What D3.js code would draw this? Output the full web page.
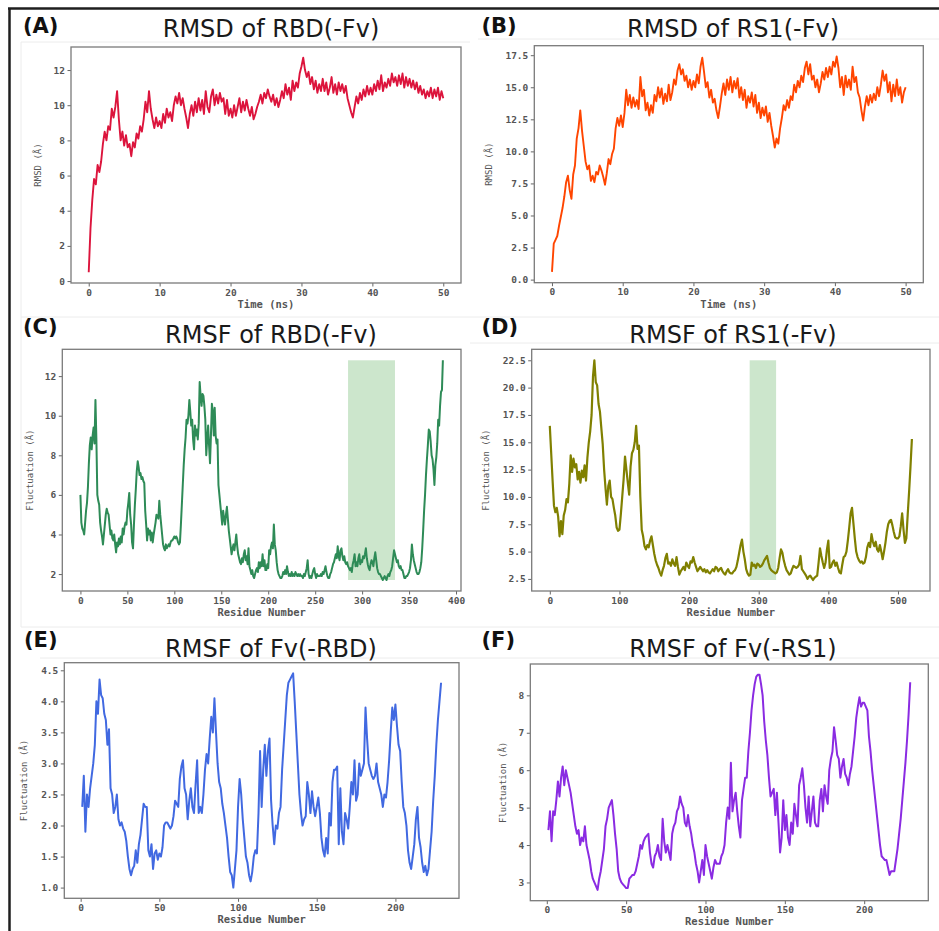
<!DOCTYPE html>
<html><head><meta charset="utf-8">
<script src="https://cdn.jsdelivr.net/npm/d3@7"></script>
<style>body{margin:0;background:#fff}svg{display:block}</style>
</head><body>
<svg id="fig" width="939" height="931"></svg>
<script>
// ---------------- DATA ----------------
const rmsdTimeRange = [0, 50];          // ns, samples evenly spaced
const rmsdRBD = [0.5,3.0,4.6,5.8,5.5,6.6,6.2,6.8,7.8,8.5,8.0,8.8,8.6,9.8,9.3,9.9,10.8,9.2,8.0,8.5,7.7,8.3,7.6,7.8,7.1,7.9,7.6,8.4,8.1,8.8,8.5,9.2,10.2,9.6,10.8,9.8,9.2,8.7,9.3,8.8,9.1,8.7,9.5,9.0,9.8,9.3,9.6,9.1,10.0,10.5,10.1,10.7,10.0,10.4,9.8,9.3,8.7,9.5,10.0,9.4,10.2,9.6,10.4,9.7,10.3,9.5,10.8,9.9,9.6,10.5,10.9,10.0,10.6,10.1,10.7,10.2,10.4,9.5,10.3,9.4,9.8,9.3,10.0,9.4,9.9,10.4,9.6,10.2,9.7,10.3,9.8,9.4,9.9,9.2,9.5,9.9,10.2,10.6,10.1,10.7,10.4,10.9,10.5,10.2,10.6,10.0,10.4,9.9,10.3,10.8,10.4,11.2,10.6,11.0,10.3,11.4,10.8,11.3,11.0,11.8,12.2,12.7,12.0,11.6,11.9,11.2,11.6,10.9,11.4,10.7,11.2,10.8,11.5,10.8,11.3,10.6,11.0,11.6,10.7,11.2,10.6,11.3,10.8,11.2,10.7,11.1,10.4,10.0,9.6,9.3,9.9,10.5,10.1,10.7,10.3,10.9,10.5,11.1,10.6,11.0,10.6,11.2,10.8,11.4,10.9,11.7,10.8,11.3,11.0,11.5,11.1,11.8,11.3,11.6,11.1,11.7,11.2,11.8,11.0,11.6,11.1,11.5,11.0,11.4,10.9,11.3,10.7,11.1,10.6,10.9,10.4,10.8,10.5,11.0,10.4,10.9,10.5,11.0,10.3,10.8,10.4];
const rmsdRS1 = [0.6,2.8,3.1,3.4,4.2,4.9,5.6,6.5,7.6,8.1,7.0,6.3,8.2,8.9,11.0,11.8,13.2,11.6,10.4,9.2,8.6,8.9,7.7,8.1,7.6,8.4,8.2,8.9,8.5,8.0,7.4,8.3,9.4,9.0,9.8,10.2,11.8,12.6,12.0,12.8,11.9,13.0,14.8,13.6,14.4,13.4,14.2,13.5,14.0,13.3,15.8,14.3,14.8,13.2,13.8,12.8,13.6,13.0,14.4,13.9,15.0,14.2,14.9,13.7,14.5,13.9,15.2,14.0,14.6,15.6,15.2,16.3,16.8,16.0,16.4,15.5,15.9,15.0,15.6,14.8,15.5,15.0,16.0,15.3,16.6,17.3,16.2,15.0,15.4,14.2,14.8,13.8,14.1,13.2,12.6,13.5,14.5,15.3,14.4,15.6,14.8,15.8,14.6,15.5,14.9,15.7,14.2,15.0,14.0,14.8,13.4,14.3,13.8,14.6,13.5,14.4,13.0,13.8,12.6,13.4,12.8,13.5,12.3,13.0,12.0,11.2,10.3,11.0,10.6,11.8,12.6,13.6,13.2,14.0,13.4,14.3,14.0,15.2,14.6,15.5,15.0,15.9,15.4,16.5,17.0,16.0,16.8,15.6,15.9,15.0,15.6,14.6,15.3,16.2,15.6,16.5,15.8,16.6,16.0,17.0,16.6,17.4,16.5,15.0,15.8,14.4,15.9,15.0,15.6,14.8,16.6,15.4,15.8,14.6,14.2,13.2,12.4,13.5,14.3,13.6,14.4,13.8,14.5,14.0,15.0,14.3,15.2,16.3,15.5,16.0,14.6,15.4,13.9,15.2,14.3,15.6,14.4,15.0,13.8,14.6,15.0];

const rmsfRBDRange = [0, 386];          // residues, one value per residue
const rmsfRBD = [6.0,4.6,4.3,4.2,4.0,4.6,5.2,5.6,6.4,7.6,8.5,8.9,8.3,9.0,9.4,8.6,10.8,8.8,6.0,5.7,5.5,4.6,4.2,3.9,3.5,4.0,4.5,5.0,5.3,5.1,5.0,4.5,4.0,4.2,3.8,3.7,4.0,3.5,3.1,3.6,3.4,3.8,3.5,3.9,3.6,4.3,4.0,4.4,4.6,4.5,5.2,5.6,6.1,5.0,4.5,3.6,3.3,4.5,5.5,6.3,7.2,7.7,7.4,7.0,7.1,6.8,6.9,6.7,6.6,5.2,4.5,3.7,4.3,4.0,4.2,3.7,4.1,3.6,4.0,4.3,4.6,5.0,4.9,4.8,5.7,5.0,4.5,4.0,3.5,3.3,3.2,3.5,3.3,3.4,3.5,3.4,3.6,3.7,3.7,3.8,3.9,3.8,3.9,3.8,3.6,3.5,3.6,4.5,5.5,6.5,7.5,8.3,8.9,9.8,9.6,10.0,10.8,10.2,9.5,9.8,8.8,8.3,9.5,9.0,9.3,8.8,9.6,11.7,11.0,10.5,11.1,11.0,10.5,9.8,8.0,8.8,9.5,8.5,7.6,9.0,10.6,10.2,9.0,10.4,9.0,8.6,8.8,6.5,6.0,5.5,5.0,4.5,5.2,4.8,4.5,5.0,5.4,4.8,4.2,3.8,3.4,3.0,3.3,3.5,3.2,3.6,4.0,3.4,3.0,2.8,2.6,2.5,2.8,2.6,3.0,3.2,2.7,2.9,2.5,3.3,2.4,2.2,2.0,2.2,1.9,1.8,2.0,2.2,2.3,2.1,2.6,2.3,2.6,2.4,3.0,2.4,2.7,2.2,2.2,2.5,2.3,3.2,3.0,3.4,3.6,3.3,4.5,3.5,3.2,2.6,2.2,2.0,1.9,1.8,1.8,1.9,2.1,2.0,2.2,2.0,2.4,2.1,1.9,2.0,1.9,2.1,1.9,2.0,1.9,2.1,2.0,1.9,2.0,1.9,2.0,1.9,1.9,1.8,2.0,1.9,2.1,2.3,2.7,2.0,1.8,1.9,1.8,2.0,2.2,2.3,2.0,1.8,2.0,1.9,1.9,1.9,2.0,1.9,2.1,2.0,2.2,2.4,2.1,1.9,1.8,1.8,2.0,2.1,2.3,2.5,2.6,2.8,3.0,2.8,3.4,2.9,2.7,3.2,3.3,2.9,2.7,2.9,2.6,2.5,2.6,2.4,2.3,2.2,2.3,2.1,2.5,2.7,3.0,2.4,2.6,2.4,2.8,3.0,2.5,2.7,2.6,2.9,2.8,3.0,3.3,2.8,2.5,2.3,2.2,2.5,2.7,2.6,2.4,2.8,3.1,2.7,2.3,2.1,2.0,2.0,1.9,1.8,1.7,1.8,1.9,1.8,1.7,1.9,2.0,1.9,2.1,2.2,2.4,2.8,3.2,3.0,2.8,2.6,2.7,2.4,2.3,2.4,2.2,2.2,2.0,1.8,1.8,1.9,1.9,2.0,2.1,2.3,2.7,3.5,3.0,2.7,2.5,2.3,2.1,2.0,2.0,2.1,2.3,2.6,3.3,4.2,5.2,6.0,7.0,7.8,8.5,9.3,9.2,8.7,8.0,7.8,7.3,6.5,7.5,7.9,8.6,9.8,9.5,10.5,11.2,11.3,12.8];
const rmsfRBDHighlight = [285, 335];

const rmsfRS1Range = [0, 520];          // residues, one value every 2 residues
const rmsfRS1 = [16.5,14.0,11.5,9.2,8.6,9.0,8.2,6.4,7.8,6.6,8.3,8.8,9.8,9.5,11.2,13.8,12.3,13.5,12.7,13.0,11.6,12.3,11.3,12.4,11.8,12.9,11.5,13.6,15.0,16.0,17.5,21.0,22.5,20.5,20.2,18.5,17.8,16.3,14.8,12.5,10.8,9.3,11.0,11.5,10.0,9.8,9.0,8.3,7.2,6.9,7.0,8.4,10.0,11.6,13.7,12.5,11.3,10.2,12.8,14.0,14.3,15.0,16.5,14.4,14.7,10.0,7.0,6.4,5.5,5.2,5.6,5.4,6.0,6.4,5.6,4.8,4.2,3.8,3.5,3.1,2.8,3.3,3.7,4.4,4.8,3.9,4.0,3.7,4.3,3.9,3.7,4.5,3.6,2.9,3.2,3.4,3.6,3.3,4.0,3.7,3.5,4.1,4.0,4.5,4.0,3.6,3.2,3.4,3.6,3.4,3.2,3.4,3.1,3.3,3.1,3.0,3.2,3.4,3.2,3.6,3.5,3.2,3.4,3.5,3.2,3.0,2.9,3.2,3.4,3.1,3.0,3.0,3.2,3.3,3.6,4.2,4.9,5.6,6.1,5.0,4.3,3.4,3.0,2.8,2.9,4.0,3.7,3.8,3.5,3.9,3.8,3.6,3.7,3.9,4.2,4.4,4.6,4.0,3.5,3.3,3.2,3.1,3.0,3.1,3.5,4.4,5.2,4.9,4.2,3.7,3.3,3.1,2.9,3.0,3.4,3.7,3.6,3.5,3.6,3.8,4.6,3.4,3.2,3.0,2.8,2.5,2.7,2.8,2.6,2.4,2.6,2.7,2.8,4.0,5.3,4.6,4.0,3.5,4.0,5.2,6.0,3.5,3.6,4.0,4.2,3.7,4.0,3.5,3.1,3.0,3.8,4.5,4.6,5.0,6.0,7.2,8.5,9.0,7.6,6.2,5.0,4.5,4.2,4.0,4.1,3.9,4.0,4.5,5.4,5.8,5.4,6.6,5.9,5.5,5.9,5.2,5.0,5.6,5.0,4.3,5.0,5.8,6.8,7.5,7.8,7.9,7.4,6.8,6.3,6.2,6.2,6.4,7.3,8.5,7.0,5.8,6.2,8.4,10.5,12.8,15.3];
const rmsfRS1Highlight = [287, 325];

const rmsfFvRange = [1, 229];           // residues, one value per residue
const rmsfFvRBD = [2.3,2.8,1.9,2.5,2.3,2.6,2.8,3.0,3.3,4.0,3.8,4.35,4.1,4.05,3.8,3.7,3.3,3.55,2.6,2.5,2.2,2.3,2.5,2.1,2.0,2.05,1.95,1.9,1.75,1.5,1.3,1.2,1.3,1.35,1.6,1.4,1.7,1.85,2.1,2.35,2.3,2.3,1.6,1.5,1.7,1.3,1.55,1.6,1.45,1.55,1.5,1.65,2.0,2.05,2.05,2.0,1.95,2.0,2.15,2.4,2.35,2.3,2.75,2.95,3.05,2.6,2.5,2.1,2.4,2.6,2.3,2.2,2.65,3.05,2.2,2.3,2.2,2.5,2.9,3.15,3.0,3.4,3.75,3.5,4.05,3.5,3.0,2.7,2.6,2.35,2.2,2.0,1.8,1.5,1.25,1.2,1.0,1.3,1.6,2.3,2.75,2.5,2.1,1.8,1.5,1.4,1.2,1.1,1.25,1.5,1.6,1.55,2.2,3.2,2.3,2.9,3.3,2.8,3.2,3.4,2.4,2.0,1.7,2.0,1.95,2.2,2.3,2.9,3.3,3.7,4.1,4.3,4.35,4.4,4.45,4.0,3.5,3.0,2.5,2.2,2.0,2.1,2.15,2.7,2.5,2.2,2.55,2.3,2.15,2.3,2.45,2.2,1.8,1.6,1.5,1.8,1.55,2.2,2.0,2.7,2.9,2.9,2.95,1.7,2.6,1.9,1.7,2.2,2.1,1.95,2.3,2.7,2.5,3.05,2.4,2.5,3.0,2.8,2.9,3.0,3.9,3.4,3.0,2.9,2.8,2.75,2.8,3.0,2.7,2.6,2.5,2.3,2.5,2.45,2.7,3.05,3.5,3.9,3.7,3.95,3.6,3.3,3.2,2.7,2.3,2.2,2.0,1.6,1.4,1.3,1.5,1.7,2.1,2.3,1.8,1.65,1.4,1.25,1.35,1.2,1.3,1.6,1.9,2.4,2.8,3.3,3.7,4.0,4.3];
const rmsfFvRS1 = [4.4,4.9,4.1,4.9,4.8,5.2,5.7,5.3,5.8,6.1,5.6,6.0,5.8,5.6,5.4,5.1,4.8,4.5,4.3,4.4,4.0,4.2,4.1,4.5,4.0,3.8,3.6,3.3,3.1,3.0,2.9,2.8,3.1,3.3,3.6,3.9,4.5,4.7,5.0,5.1,5.2,4.8,4.3,3.9,3.3,3.1,3.0,2.95,2.9,2.85,2.85,3.1,3.15,3.2,3.2,3.3,3.5,3.7,4.0,3.9,4.1,4.2,4.25,4.3,3.8,3.5,3.4,3.7,3.8,4.0,3.7,3.6,4.7,4.1,3.8,4.0,3.8,3.6,4.3,4.5,4.6,4.9,5.0,5.3,5.1,5.0,4.6,4.5,4.8,4.5,4.3,4.0,3.8,3.5,3.3,3.0,3.3,3.6,3.2,4.0,3.7,3.5,3.3,3.1,3.4,3.6,3.5,3.5,3.5,3.7,3.8,4.0,4.6,5.0,4.7,6.2,4.9,5.2,5.4,4.9,4.5,4.2,5.2,5.5,5.8,5.8,6.5,7.0,7.6,8.0,8.3,8.5,8.55,8.55,8.3,8.0,7.3,6.8,6.4,5.8,5.3,5.4,5.5,4.8,5.4,4.6,3.8,4.2,5.2,4.4,4.8,4.2,4.0,4.6,4.3,5.1,4.8,4.5,5.6,5.8,6.05,5.6,5.0,4.6,5.3,4.5,4.9,5.3,4.6,4.5,4.5,5.2,5.5,4.9,5.6,5.3,5.1,6.0,6.3,6.5,7.15,6.8,6.4,6.3,5.8,6.1,6.3,5.9,5.8,5.6,5.9,6.1,6.5,6.9,7.4,7.7,7.95,7.7,7.8,7.8,7.7,7.6,6.9,6.5,6.0,5.6,5.2,4.8,4.4,4.0,3.7,3.65,3.6,3.6,3.4,3.2,3.3,3.3,3.3,3.6,3.9,4.3,4.7,5.2,5.7,6.2,6.8,7.5,8.35];

const xTicksRMSD = [0, 10, 20, 30, 40, 50];
const yTicksRMSD_RBD = [0, 2, 4, 6, 8, 10, 12];
const yTicksRMSD_RS1 = [0, 2.5, 5, 7.5, 10, 12.5, 15, 17.5];
const xTicksRBD = [0, 50, 100, 150, 200, 250, 300, 350, 400];
const yTicksRBD = [2, 4, 6, 8, 10, 12];
const xTicksRS1 = [0, 100, 200, 300, 400, 500];
const yTicksRS1 = [2.5, 5, 7.5, 10, 12.5, 15, 17.5, 20, 22.5];
const xTicksFv = [0, 50, 100, 150, 200];
const yTicksFvRBD = [1, 1.5, 2, 2.5, 3, 3.5, 4, 4.5];
const yTicksFvRS1 = [3, 4, 5, 6, 7, 8];

const panelLabels = ['(A)', '(B)', '(C)', '(D)', '(E)', '(F)'];
const panelTitles = ['RMSD of RBD(-Fv)', 'RMSD of RS1(-Fv)', 'RMSF of RBD(-Fv)',
                     'RMSF of RS1(-Fv)', 'RMSF of Fv(-RBD)', 'RMSF of Fv(-RS1)'];

// ---------------- LAYOUT / STYLE ----------------
const f1 = d3.format('d'), f2 = d3.format('.1f');
const panels = [
  {vals: rmsdRBD, range: rmsdTimeRange, xTicks: xTicksRMSD, yTicks: yTicksRMSD_RBD, yFmt: f1,
   xLab: 'Time (ns)', yLab: 'RMSD (Å)', color: '#dc143c', lw: 1.9,
   box: [71, 47, 461, 283], titleX: 271, titleY: 37, labX: 23, labY: 33, xLabY: 308, yLabX: 38},
  {vals: rmsdRS1, range: rmsdTimeRange, xTicks: xTicksRMSD, yTicks: yTicksRMSD_RS1, yFmt: f2,
   xLab: 'Time (ns)', yLab: 'RMSD (Å)', color: '#ff4500', lw: 1.9,
   box: [534.3, 45.7, 923.3, 282.7], titleX: 733, titleY: 37, labX: 481.5, labY: 33, xLabY: 308, yLabX: 489},
  {vals: rmsfRBD, range: rmsfRBDRange, xTicks: xTicksRBD, yTicks: yTicksRBD, yFmt: f1,
   xLab: 'Residue Number', yLab: 'Fluctuation (Å)', color: '#2e8b57', lw: 2, hl: rmsfRBDHighlight,
   box: [62.3, 349.3, 461, 591], titleX: 271, titleY: 343, labX: 23, labY: 334, xLabY: 616, yLabX: 30},
  {vals: rmsfRS1, range: rmsfRS1Range, xTicks: xTicksRS1, yTicks: yTicksRS1, yFmt: f2,
   xLab: 'Residue Number', yLab: 'Fluctuation (Å)', color: '#808000', lw: 2.2, hl: rmsfRS1Highlight,
   box: [531.7, 349.3, 930, 591], titleX: 733, titleY: 343, labX: 481.5, labY: 334, xLabY: 616, yLabX: 486},
  {vals: rmsfFvRBD, range: rmsfFvRange, xTicks: xTicksFv, yTicks: yTicksFvRBD, yFmt: f2,
   xLab: 'Residue Number', yLab: 'Fluctuation (Å)', color: '#4169e1', lw: 2,
   box: [64.3, 662.7, 459, 898.3], titleX: 271, titleY: 656.5, labX: 24, labY: 647, xLabY: 923, yLabX: 24},
  {vals: rmsfFvRS1, range: rmsfFvRange, xTicks: xTicksFv, yTicks: yTicksFvRS1, yFmt: f1,
   xLab: 'Residue Number', yLab: 'Fluctuation (Å)', color: '#8a2be2', lw: 2,
   box: [530.3, 664, 928.3, 900.7], titleX: 733, titleY: 656.5, labX: 481.5, labY: 647, xLabY: 925, yLabX: 503}
];

const svg = d3.select('#fig');
svg.append('rect').attr('width', 939).attr('height', 931).attr('fill', '#fff');

// faint tile edges of the composed figure
const faint = svg.append('g').attr('stroke', '#ececec').attr('stroke-width', 1).attr('fill', 'none');
[[21, 42, 470, 42], [478, 39, 939, 39], [21, 317, 939, 317], [470, 343, 939, 343],
 [21, 627, 939, 627], [40, 658, 939, 658], [21, 42, 21, 627]].forEach(l =>
  faint.append('line').attr('x1', l[0]).attr('y1', l[1]).attr('x2', l[2]).attr('y2', l[3]));

// outer frame (top and left)
svg.append('line').attr('x1', 8).attr('y1', 8.5).attr('x2', 939).attr('y2', 8.5)
  .attr('stroke', '#1e1e1e').attr('stroke-width', 2.5);
svg.append('line').attr('x1', 9.5).attr('y1', 8).attr('x2', 9.5).attr('y2', 931)
  .attr('stroke', '#1e1e1e').attr('stroke-width', 2.5);

panels.forEach((p, k) => {
  const [x0, y0, x1, y1] = p.box;
  const n = p.vals.length;
  const xs = p.vals.map((v, i) => p.range[0] + i * (p.range[1] - p.range[0]) / (n - 1));
  const xPad = (p.range[1] - p.range[0]) * 0.05;
  const [vmin, vmax] = d3.extent(p.vals);
  const yPad = (vmax - vmin) * 0.05;
  const x = d3.scaleLinear().domain([p.range[0] - xPad, p.range[1] + xPad]).range([x0, x1]);
  const y = d3.scaleLinear().domain([vmin - yPad, vmax + yPad]).range([y1, y0]);
  const g = svg.append('g');

  if (p.hl) {
    g.append('rect').attr('x', x(p.hl[0])).attr('width', x(p.hl[1]) - x(p.hl[0]))
      .attr('y', y(vmax)).attr('height', y(vmin) - y(vmax))
      .attr('fill', 'green').attr('fill-opacity', 0.2);
  }

  const line = d3.line().x((d, i) => x(xs[i])).y(d => y(d));
  g.append('path').datum(p.vals).attr('d', line).attr('fill', 'none')
    .attr('stroke', p.color).attr('stroke-width', p.lw).attr('stroke-linejoin', 'round');

  const ax = g.append('g').attr('transform', `translate(0,${y1})`)
    .call(d3.axisBottom(x).tickValues(p.xTicks).tickFormat(f1).tickSize(3.5).tickPadding(2.5));
  const ay = g.append('g').attr('transform', `translate(${x0},0)`)
    .call(d3.axisLeft(y).tickValues(p.yTicks).tickFormat(p.yFmt).tickSize(3.5).tickPadding(2.5));
  [ax, ay].forEach(a => {
    a.select('.domain').remove();
    a.selectAll('line').attr('stroke', '#666').attr('stroke-width', 1);
    a.selectAll('text').attr('fill', '#555').style('font-family', 'DejaVu Sans Mono')
      .style('font-size', '9.5px').style('font-weight', 'bold');
  });

  g.append('rect').attr('x', x0).attr('y', y0).attr('width', x1 - x0).attr('height', y1 - y0)
    .attr('fill', 'none').attr('stroke', '#7a7a7a').attr('stroke-width', 1.3);

  g.append('text').attr('x', (x0 + x1) / 2).attr('y', p.xLabY).attr('text-anchor', 'middle')
    .style('font-family', 'DejaVu Sans Mono').style('font-size', '10.5px').style('font-weight', 'bold')
    .attr('fill', '#555').text(p.xLab);
  g.append('text').attr('transform', `translate(${p.yLabX},${(y0 + y1) / 2}) rotate(-90)`)
    .attr('text-anchor', 'middle').attr('dominant-baseline', 'central')
    .style('font-family', 'DejaVu Sans Mono').style('font-size', '9px')
    .attr('fill', '#555').text(p.yLab);

  g.append('text').attr('x', p.titleX).attr('y', p.titleY).attr('text-anchor', 'middle')
    .style('font-family', 'DejaVu Sans').style('font-size', '24px').attr('fill', '#1a1a1a')
    .text(panelTitles[k]);
  g.append('text').attr('x', p.labX).attr('y', p.labY)
    .style('font-family', 'DejaVu Sans').style('font-size', '21px').style('font-weight', 'bold')
    .attr('fill', '#111').text(panelLabels[k]);
});
</script>
</body></html>
